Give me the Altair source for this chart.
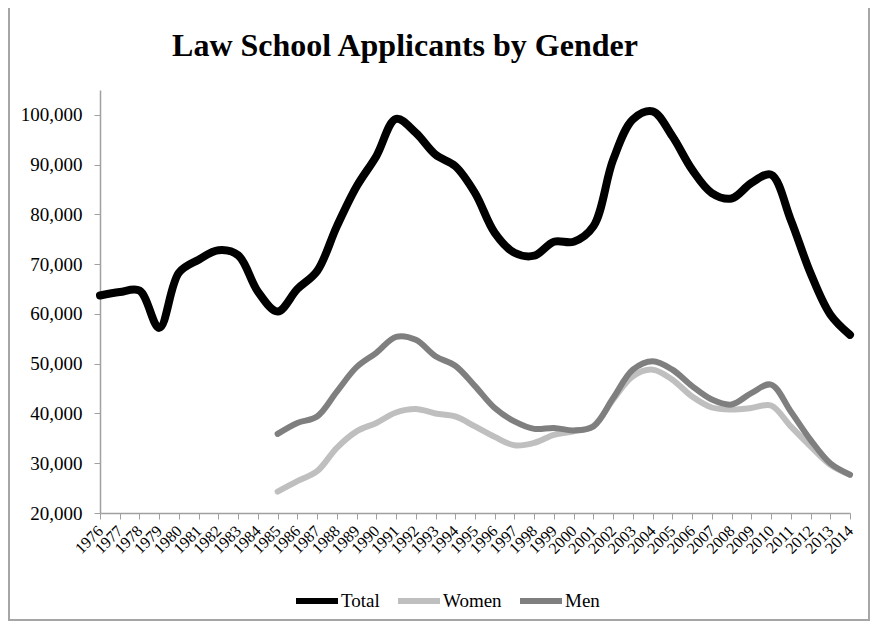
import altair as alt
import pandas as pd

years = list(range(1976, 2015))
total = [63700, 64400, 64700, 57200, 68300, 70900, 72800, 71800, 64500, 60500,
         65000, 68600, 77600, 85600, 91700, 99200, 96400, 92000, 89700, 84300,
         76300, 72300, 71700, 74500, 74500, 77600, 91000, 99100, 100700, 95700,
         89000, 84300, 83200, 86300, 88000, 78900, 68200, 59900, 55800]
women = [None] * 9 + [24300, 26400, 28400, 33100, 36400, 38100, 40200, 40900, 40000,
         39400, 37400, 35300, 33600, 34100, 35700, 36400, 37500, 42800, 47500,
         48800, 46800, 43400, 41200, 40800, 41100, 41600, 37400, 33400, 29700, 27700]
men = [None] * 9 + [35900, 38100, 39400, 44400, 49300, 52200, 55400, 54800, 51500,
       49600, 45500, 41100, 38400, 36900, 37100, 36600, 37400, 43100, 48800,
       50500, 48800, 45500, 42800, 41800, 44100, 45800, 40400, 34700, 30000, 27700]

series_names = ["Total", "Women", "Men"]
series_colors = ["#000000", "#bfbfbf", "#7f7f7f"]
y_ticks = [20000, 30000, 40000, 50000, 60000, 70000, 80000, 90000, 100000]
title_text = "Law School Applicants by Gender"

rows = []
for name, vals in zip(series_names, [total, women, men]):
    for yr, v in zip(years, vals):
        if v is not None:
            rows.append({"year": yr, "value": v, "series": name})
df = pd.DataFrame(rows)

FONT = "Liberation Serif"
W, H = 750, 423

base = alt.Chart(df)

color = alt.Color(
    "series:N",
    scale=alt.Scale(domain=series_names, range=series_colors),
    legend=alt.Legend(
        title=None,
        orient="none",
        legendX=193,
        legendY=487,
        direction="horizontal",
        symbolType="stroke",
        symbolSize=1764,
        symbolStrokeWidth=6,
        labelFont=FONT,
        labelFontSize=19,
        labelColor="#000000",
        labelOffset=0,
        columnPadding=6,
    ),
)

x = alt.X(
    "year:Q",
    scale=alt.Scale(domain=[1976, 2014], nice=False, zero=False),
    axis=alt.Axis(
        title=None,
        values=years,
        format="d",
        labelAngle=315,
        labelAlign="right",
        labelBaseline="middle",
        labelOverlap=False,
        labelFlush=False,
        labelBound=False,
        labelPadding=9,
        labelFont=FONT,
        labelFontSize=16,
        labelColor="#000000",
        tickSize=6,
        tickColor="#a0a0a0",
        domainColor="#a0a0a0",
        domainWidth=1.5,
        grid=False,
    ),
)
y = alt.Y(
    "value:Q",
    scale=alt.Scale(domain=[20000, 105000], nice=False, zero=False),
    axis=alt.Axis(
        title=None,
        values=y_ticks,
        format=",d",
        labelFont=FONT,
        labelFontSize=19,
        labelColor="#000000",
        labelPadding=12,
        tickSize=6,
        tickColor="#a0a0a0",
        domainColor="#a0a0a0",
        domainWidth=1.5,
        grid=False,
    ),
)

layers = []
for name, sw in zip(series_names, [8, 6, 6]):
    layers.append(
        base.transform_filter(alt.datum.series == name)
        .mark_line(interpolate="catmull-rom", strokeWidth=sw, strokeCap="round", strokeJoin="round")
        .encode(x=x, y=y, color=color)
    )

deco = pd.DataFrame({"t": [title_text]})
title = alt.Chart(deco).mark_text(
    font=FONT, fontSize=32, fontWeight="bold", align="center", baseline="alphabetic", color="#000000"
).encode(text="t:N", x=alt.value(305), y=alt.value(-34))

border = alt.Chart(deco).mark_rect(filled=False, stroke="#a6a6a6", strokeWidth=2).encode(
    x=alt.value(-91), x2=alt.value(769), y=alt.value(-89), y2=alt.value(530)
)

chart = alt.layer(border, *layers, title).properties(
    width=W,
    height=H,
    autosize=alt.AutoSizeParams(type="none"),
    padding={"left": 92, "top": 82, "right": 20, "bottom": 108},
    background="#ffffff",
).configure_view(stroke=None)

chart.save("out.html", embed_options={"renderer": "svg", "actions": False})
